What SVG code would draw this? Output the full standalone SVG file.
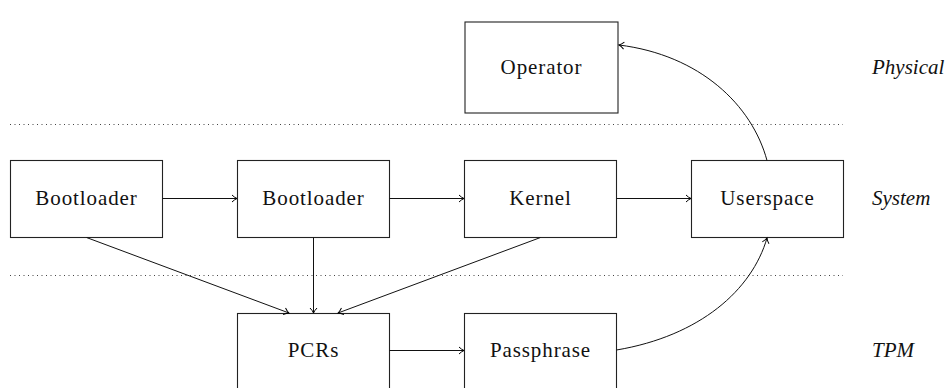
<svg xmlns="http://www.w3.org/2000/svg" width="947" height="388" viewBox="0 0 947 388">
<defs>
<marker id="arr" markerWidth="10" markerHeight="10" refX="8" refY="5" orient="auto" markerUnits="userSpaceOnUse">
<path d="M3,1.5 Q5.5,4 8,5 Q5.5,6 3,8.5" fill="none" stroke="#000" stroke-width="1"/>
</marker>
</defs>
<style>
.box{fill:#fff;stroke:#222;stroke-width:1.1}
.lbl{font-family:"Liberation Serif","DejaVu Serif",serif;font-size:21px;letter-spacing:0.9px;fill:#111;text-anchor:middle;dominant-baseline:central}
.layer{font-family:"Liberation Serif","DejaVu Serif",serif;font-size:21px;font-style:italic;fill:#111;dominant-baseline:central}
.dot{stroke:#444;stroke-width:1;stroke-dasharray:1 3.5}
.c{fill:none;stroke:#111;stroke-width:1;marker-end:url(#arr)}
</style>
<line class="dot" x1="10" y1="124.5" x2="843" y2="124.5"/>
<line class="dot" x1="10" y1="275.5" x2="843" y2="275.5"/>
<g id="operator"><rect class="box" x="465" y="22" width="153" height="91"/><text class="lbl" x="541.5" y="67">Operator</text></g>
<g id="bootloader1"><rect class="box" x="10.5" y="160.5" width="152" height="77"/><text class="lbl" x="86.5" y="198">Bootloader</text></g>
<g id="bootloader2"><rect class="box" x="237.5" y="160.5" width="152" height="77"/><text class="lbl" x="313.5" y="198">Bootloader</text></g>
<g id="kernel"><rect class="box" x="464.5" y="160.5" width="152" height="77"/><text class="lbl" x="540.5" y="198">Kernel</text></g>
<g id="userspace"><rect class="box" x="691.5" y="160.5" width="152" height="77"/><text class="lbl" x="767.5" y="198">Userspace</text></g>
<g id="pcrs"><rect class="box" x="237.5" y="313.5" width="152" height="77"/><text class="lbl" x="313.5" y="350">PCRs</text></g>
<g id="passphrase"><rect class="box" x="464.5" y="313.5" width="152" height="77"/><text class="lbl" x="540.5" y="350">Passphrase</text></g>
<g id="layers">
<text class="layer" x="872" y="67">Physical</text>
<text class="layer" x="872" y="198">System</text>
<text class="layer" x="872" y="350">TPM</text>
</g>
<g id="connectors">
<line class="c" x1="162.5" y1="198.5" x2="237" y2="198.5"/>
<line class="c" x1="389.5" y1="198.5" x2="464" y2="198.5"/>
<line class="c" x1="616.5" y1="198.5" x2="691" y2="198.5"/>
<line class="c" x1="389.5" y1="350.5" x2="464" y2="350.5"/>
<line class="c" x1="86.5" y1="237.5" x2="289" y2="313"/>
<line class="c" x1="313.5" y1="237.5" x2="313.5" y2="313"/>
<line class="c" x1="540.5" y1="237.5" x2="338" y2="313"/>
<path class="c" d="M767,160.5 C752,105 700,55 619,45"/>
<path class="c" d="M616.5,350 C700,336 752,290 767,238"/>
</g>
</svg>
